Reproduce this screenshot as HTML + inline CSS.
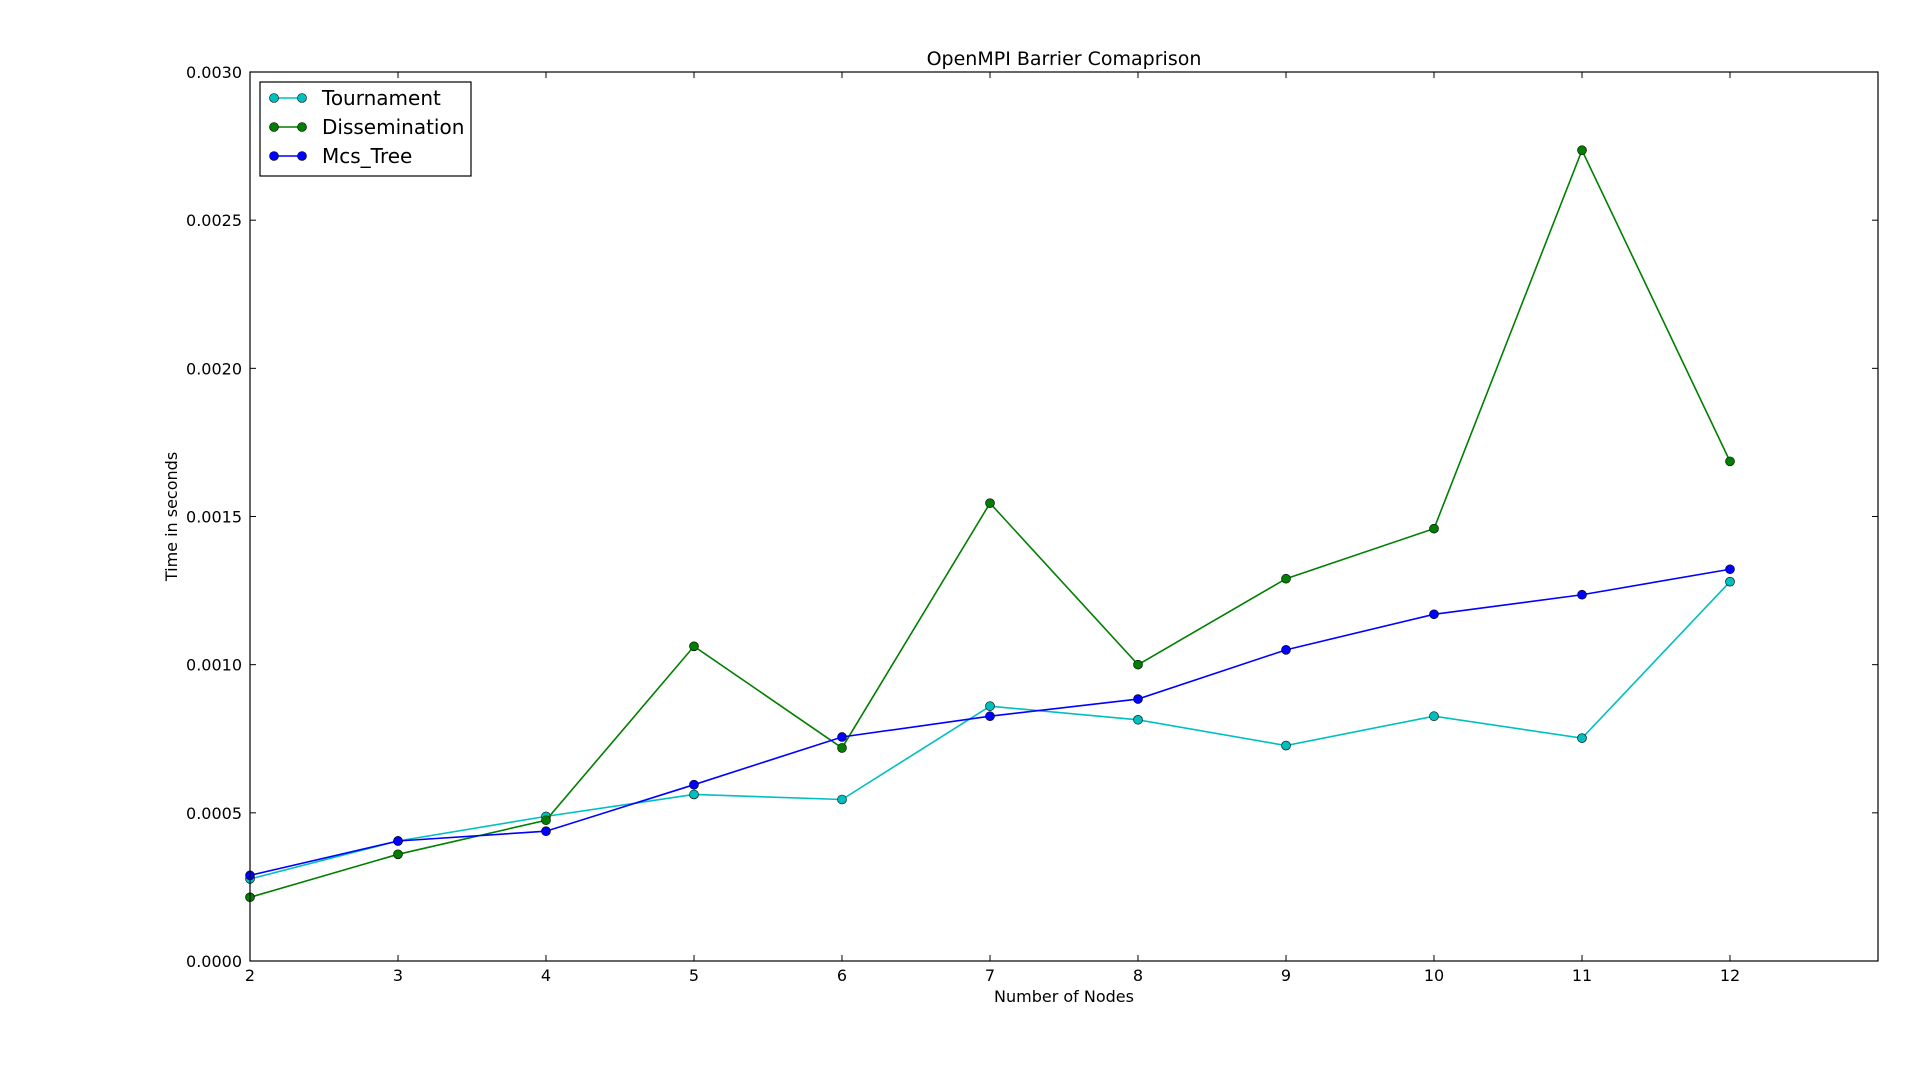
<!DOCTYPE html>
<html><head><meta charset="utf-8"><style>
html,body{margin:0;padding:0;background:#fff;}
svg{display:block;font-family:"DejaVu Sans","Liberation Sans",sans-serif;}
</style></head><body>
<svg id="chart" width="1920" height="1080"></svg>
<script>
const categories=[2,3,4,5,6,7,8,9,10,11,12];
const tournament=[0.000277,0.000405,0.000488,0.000562,0.000545,0.00086,0.000814,0.000727,0.000826,0.000752,0.00128];
const dissemination=[0.000215,0.00036,0.000475,0.001062,0.000719,0.001545,0.001,0.00129,0.001459,0.002736,0.001686];
const mcsTree=[0.000289,0.000405,0.000438,0.000595,0.000756,0.000826,0.000884,0.00105,0.00117,0.001236,0.001322];
const yTicks=["0.0000","0.0005","0.0010","0.0015","0.0020","0.0025","0.0030"];
const xTicks=[2,3,4,5,6,7,8,9,10,11,12];

const NS="http://www.w3.org/2000/svg";
const svg=document.getElementById('chart');
const L=250,R=1878,T=72,B=961;
const xMin=2,xMax=13,yMin=0,yMax=0.003;
function xs(v){return L+(v-xMin)/(xMax-xMin)*(R-L);}
function ys(v){return B-(v-yMin)/(yMax-yMin)*(B-T);}
function mk(tag,attrs,parent){const e=document.createElementNS(NS,tag);for(const k in attrs)e.setAttribute(k,attrs[k]);(parent||svg).appendChild(e);return e;}

let t=mk('text',{x:(L+R)/2,y:65,'text-anchor':'middle','font-size':19});
t.textContent='OpenMPI Barrier Comaprison';



const ax=mk('g',{});



yTicks.forEach(s=>{
  const v=parseFloat(s),y=ys(v);
  mk('line',{x1:L,x2:L+6,y1:y,y2:y,stroke:'#000'},ax);
  mk('line',{x1:R,x2:R-6,y1:y,y2:y,stroke:'#000'},ax);
  const tx=mk('text',{x:L-8,y:y+6,'text-anchor':'end','font-size':16},ax);
  tx.textContent=s;
  
  
});
xTicks.forEach(v=>{
  const x=xs(v);
  mk('line',{x1:x,x2:x,y1:B,y2:B-6,stroke:'#000'},ax);
  mk('line',{x1:x,x2:x,y1:T,y2:T+6,stroke:'#000'},ax);
  const tx=mk('text',{x:x,y:B+20,'text-anchor':'middle','font-size':16},ax);
  tx.textContent=v;
  
  
});
t=mk('text',{x:(L+R)/2,y:1002,'text-anchor':'middle','font-size':16});
t.textContent='Number of Nodes';


t=mk('text',{x:0,y:0,'text-anchor':'middle','font-size':16,transform:'translate(177,'+((T+B)/2)+') rotate(-90)'});
t.textContent='Time in seconds';



const series=[[tournament,'#00bfbf','tournament'],[dissemination,'#007f00','dissemination'],[mcsTree,'#0000ff','mcs-tree']];
series.forEach(([data,col,name])=>{
  const g=mk('g',{});
  
  
  const pts=data.map((v,i)=>xs(categories[i])+','+ys(v)).join(' ');
  mk('polyline',{points:pts,fill:'none',stroke:col,'stroke-width':1.6},g);
  data.forEach((v,i)=>{
    const c=mk('circle',{cx:xs(categories[i]),cy:ys(v),r:4.5,fill:col,stroke:'#000','stroke-width':0.6},g);
    
    
  });
});
const frame=mk('rect',{x:L,y:T,width:R-L,height:B-T,fill:'none',stroke:'#000','stroke-width':1.2});



const lg=mk('g',{});


mk('rect',{x:260,y:82,width:211,height:94,fill:'#fff',stroke:'#000','stroke-width':1.2},lg);
const labels=['Tournament','Dissemination','Mcs_Tree'];
series.forEach(([d,col,name],i)=>{
  const y=98+i*29;
  const e=mk('g',{},lg);
  
  
  mk('line',{x1:274,x2:302,y1:y,y2:y,stroke:col,'stroke-width':1.6},e);
  mk('circle',{cx:274,cy:y,r:4.5,fill:col,stroke:'#000','stroke-width':0.6},e);
  mk('circle',{cx:302,cy:y,r:4.5,fill:col,stroke:'#000','stroke-width':0.6},e);
  const tx=mk('text',{x:322,y:y+7,'font-size':20},e);
  tx.textContent=labels[i];
});
</script>
</body></html>
